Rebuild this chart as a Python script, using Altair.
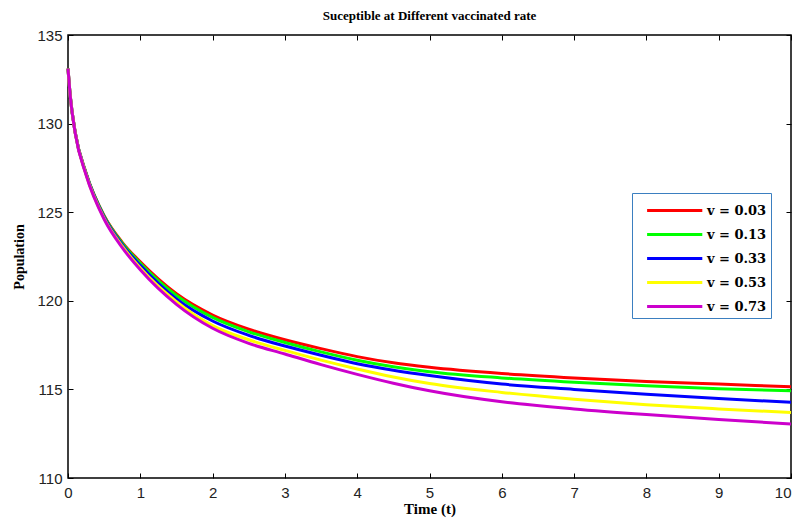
import altair as alt
import pandas as pd

# time points (t) and susceptible population for each vaccination rate
t_vals = [0, 0.03, 0.1, 0.25, 0.5, 0.75, 1, 1.5, 2, 2.5, 3, 3.5, 4, 4.5, 5, 6, 7, 8, 9, 10]
s_003 = [133.1, 131.6, 129.5, 127.2, 124.8, 123.3, 122.2, 120.4, 119.2, 118.4, 117.8, 117.3, 116.85, 116.5, 116.25, 115.9, 115.65, 115.45, 115.3, 115.15]
s_013 = [133.1, 131.6, 129.5, 127.2, 124.78, 123.25, 122.12, 120.3, 119.06, 118.25, 117.65, 117.12, 116.65, 116.28, 116.0, 115.65, 115.4, 115.2, 115.04, 114.92]
s_033 = [133.1, 131.6, 129.48, 127.17, 124.72, 123.17, 122.0, 120.1, 118.86, 118.05, 117.45, 116.93, 116.45, 116.08, 115.78, 115.3, 115.0, 114.73, 114.49, 114.27]
s_053 = [133.1, 131.6, 129.47, 127.13, 124.65, 123.08, 121.85, 119.95, 118.6, 117.8, 117.2, 116.65, 116.15, 115.7, 115.33, 114.83, 114.45, 114.14, 113.9, 113.69]
s_073 = [133.1, 131.6, 129.45, 127.1, 124.6, 123.0, 121.75, 119.8, 118.45, 117.6, 117.0, 116.4, 115.85, 115.35, 114.92, 114.3, 113.9, 113.58, 113.3, 113.05]

labels = ["v = 0.03", "v = 0.13", "v = 0.33", "v = 0.53", "v = 0.73"]
colors = ["#ff0000", "#00ff00", "#0000ff", "#ffff00", "#cc00cc"]
x_ticks = [0, 1, 2, 3, 4, 5, 6, 7, 8, 9, 10]
y_ticks = [110, 115, 120, 125, 130, 135]

series = [s_003, s_013, s_033, s_053, s_073]
rows = []
for lab, ser in zip(labels, series):
    for ti, si in zip(t_vals, ser):
        rows.append({"t": ti, "S": si, "v": lab})
df = pd.DataFrame(rows)

W, H = 723, 443
xs = alt.Scale(domain=[0, 10], nice=False, zero=False)
ys = alt.Scale(domain=[110, 135], nice=False, zero=False)

base = alt.Chart(df)

lines = base.mark_line(strokeWidth=3, interpolate="monotone").encode(
    x=alt.X("t:Q", scale=xs, axis=alt.Axis(
        values=x_ticks, title="Time (t)", ticks=False, tickSize=0, domain=False, grid=False,
        labelFont="Liberation Sans", labelFontSize=15, labelColor="#222222", labelPadding=7,
        labelFlush=False,
        labelAlign={"condition": {"test": "datum.value == 10", "value": "right"}, "value": "center"},
        titleFont="Liberation Serif", titleFontSize=15, titleFontWeight="bold",
        titleColor="black", titlePadding=1)),
    y=alt.Y("S:Q", scale=ys, axis=alt.Axis(
        values=y_ticks, title="Population", ticks=False, tickSize=0, domain=False, grid=False,
        labelFont="Liberation Sans", labelFontSize=15, labelColor="#222222", labelPadding=6,
        labelFlush=False, titleFont="Liberation Serif", titleFontSize=14, titleFontWeight="bold",
        titleColor="black", titlePadding=10)),
    color=alt.Color("v:N", sort=labels, scale=alt.Scale(domain=labels, range=colors),
                    legend=alt.Legend(
                        orient="none", legendX=564, legendY=158, title=None,
                        symbolType="M-0.2,0H4.4", symbolSize=576, symbolStrokeWidth=3,
                        symbolOpacity=1,
                        labelFont="DejaVu Serif", labelFontSize=13, labelFontWeight="bold",
                        labelColor="black", labelOffset=44, rowPadding=3, padding=4,
                        strokeColor="#3b7fc0", fillColor="white")),
)

ticks_in_a = base.mark_point(opacity=0).encode(
    x=alt.X("t:Q", scale=xs, axis=alt.Axis(
        orient="top", offset=-H, values=x_ticks, labels=False, domain=False, grid=False,
        ticks=True, tickSize=5, tickColor="black", title=None)),
    y=alt.Y("S:Q", scale=ys, axis=alt.Axis(
        orient="right", offset=-W, values=y_ticks, labels=False, domain=False, grid=False,
        ticks=True, tickSize=5, tickColor="black", title=None)),
)

ticks_in_b = base.mark_point(opacity=0).encode(
    x=alt.X("t:Q", scale=xs, axis=alt.Axis(
        orient="bottom", offset=-H, values=x_ticks, labels=False, domain=False, grid=False,
        ticks=True, tickSize=5, tickColor="black", title=None)),
    y=alt.Y("S:Q", scale=ys, axis=alt.Axis(
        orient="left", offset=-W, values=y_ticks, labels=False, domain=False, grid=False,
        ticks=True, tickSize=5, tickColor="black", title=None)),
)

chart = alt.layer(lines, ticks_in_a, ticks_in_b).resolve_axis(
    x="independent", y="independent"
).properties(
    width=W, height=H,
    padding={"left": 60, "top": 27, "right": 1, "bottom": 42},
    autosize=alt.AutoSizeParams(type="none"),
    title=alt.Title("Suceptible at Different vaccinated rate", font="Liberation Serif",
                    fontSize=13, fontWeight="bold", color="black", anchor="middle", offset=5),
).configure_view(stroke="black", strokeWidth=1.5)

chart.save("out.html", embed_options={"renderer": "svg", "actions": False})
